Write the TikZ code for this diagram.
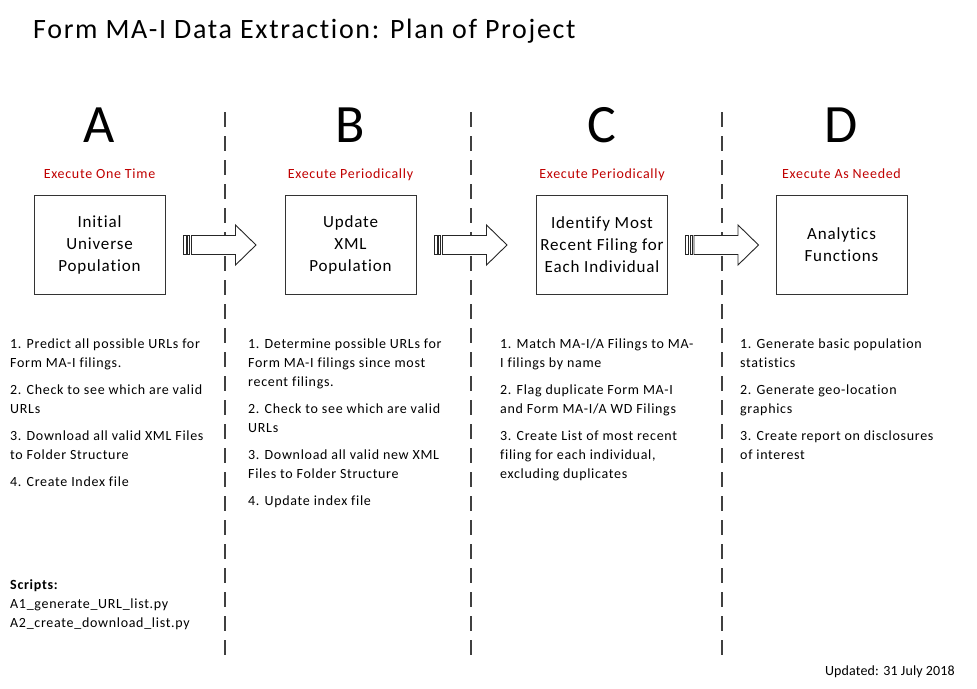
\documentclass[tikz,border=0pt]{standalone}
\usepackage{fontspec}
\setmainfont{Carlito}[LetterSpace=5, Ligatures=NoCommon]
\usetikzlibrary{calc}
\definecolor{execred}{HTML}{C00000}
\definecolor{linegray}{HTML}{404040}
\newcommand{\stripedarrow}[1]{%
  \begin{scope}[shift={(#1)}]
    \draw[blockarrow] (0,-9.5) rectangle (3,9.5);
    \draw[blockarrow] (4.5,-9.5) rectangle (6.5,9.5);
    \draw[blockarrow] (8.5,-9.5) -- (52.5,-9.5) -- (52.5,-20) -- (73,0) -- (52.5,20) -- (52.5,9.5) -- (8.5,9.5) -- cycle;
  \end{scope}}
\begin{document}
\begin{tikzpicture}[x=1pt,y=-1pt,
  stage/.style={draw=black!80, line width=1pt, minimum width=131pt, minimum height=99pt, align=center, font=\fontsize{17}{22}\selectfont, inner sep=0pt},
  letter/.style={anchor=base, font=\fontsize{54}{60}\selectfont, inner sep=0pt},
  exec/.style={anchor=base, text=execred, font=\fontsize{14}{17}\selectfont, inner sep=0pt},
  steps/.style={anchor=base west, inner sep=0pt, font=\fontsize{14}{19}\selectfont},
  divider/.style={draw=linegray, line width=1.2pt, dash pattern=on 15pt off 9pt},
  blockarrow/.style={draw=black!85, fill=white, line width=0.9pt, line join=miter}]
\useasboundingbox (0,0) rectangle (977,688);
\fill[white] (0,0) rectangle (977,688);

% title
\node[anchor=base west, inner sep=0pt, font=\fontsize{28}{34}\selectfont\addfontfeatures{LetterSpace=6}] (title) at (33,38) {Form MA-I Data Extraction: Plan of Project};

% dividers
\draw[divider] (225,112) -- (225,655);
\draw[divider] (471,112) -- (471,655);
\draw[divider] (722,112) -- (722,655);

% letters
\node[letter] (LA) at (99.5,142) {A};
\node[letter] (LB) at (350.5,142) {B};
\node[letter] (LC) at (602,142) {C};
\node[letter] (LD) at (841.5,142) {D};

% execution labels
\node[exec] (EA) at (99.5,178) {Execute One Time};
\node[exec] (EB) at (350.5,178) {Execute Periodically};
\node[exec] (EC) at (602,178) {Execute Periodically};
\node[exec] (ED) at (841.5,178) {Execute As Needed};

% stage boxes
\node[stage] (A) at (99.5,245) {Initial\\Universe\\Population};
\node[stage] (B) at (350.5,245) {Update\\XML\\Population};
\node[stage] (C) at (602,245) {Identify Most\\Recent Filing for\\Each Individual};
\node[stage] (D) at (841.5,245) {Analytics\\Functions};

% striped arrows
\stripedarrow{$(A.east)+(17.5,0)$}
\stripedarrow{$(B.east)+(17.5,0)$}
\stripedarrow{$(C.east)+(17.5,0)$}

% step lists
\node[steps] (SA) at (10,348) {\parbox[t]{230pt}{\raggedright
1. Predict all possible URLs for\\
Form MA-I filings.\\[8pt]
2. Check to see which are valid\\
URLs\\[8pt]
3. Download all valid XML Files\\
to Folder Structure\\[8pt]
4. Create Index file}};

\node[steps] (SB) at (248,348) {\parbox[t]{230pt}{\raggedright
1. Determine possible URLs for\\
Form MA-I filings since most\\
recent filings.\\[8pt]
2. Check to see which are valid\\
URLs\\[8pt]
3. Download all valid new XML\\
Files to Folder Structure\\[8pt]
4. Update index file}};

\node[steps] (SC) at (500,348) {\parbox[t]{230pt}{\raggedright
1. Match MA-I/A Filings to MA-\\
I filings by name\\[8pt]
2. Flag duplicate Form MA-I\\
and Form MA-I/A WD Filings\\[8pt]
3. Create List of most recent\\
filing for each individual,\\
excluding duplicates}};

\node[steps] (SD) at (740,348) {\parbox[t]{230pt}{\raggedright
1. Generate basic population\\
statistics\\[8pt]
2. Generate geo-location\\
graphics\\[8pt]
3. Create report on disclosures\\
of interest}};

% scripts
\node[steps] (scripts) at (10,589) {\parbox[t]{230pt}{\raggedright
\textbf{Scripts:}\\
A1\_generate\_URL\_list.py\\
A2\_create\_download\_list.py}};

% updated
\node[anchor=base east, inner sep=0pt, font=\fontsize{14}{19}\selectfont\addfontfeatures{LetterSpace=1}] (upd) at (955,675) {Updated: 31 July 2018};
\end{tikzpicture}
\end{document}
